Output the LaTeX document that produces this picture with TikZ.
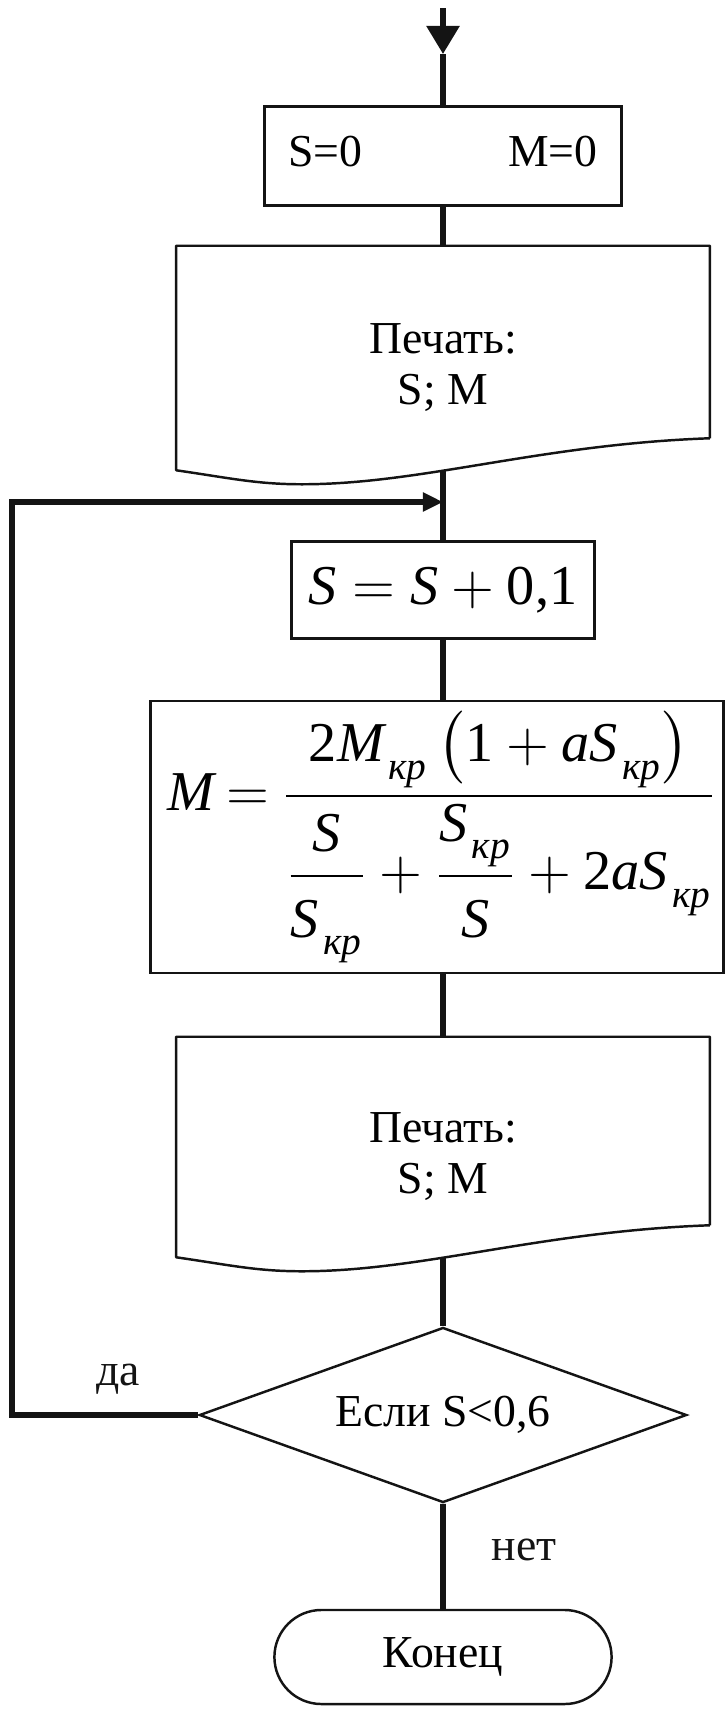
\RequirePackage{fix-cm}
\documentclass[tikz,border=0pt]{standalone}
\usepackage{amsmath}
\usepackage{fontspec}
\setmainfont{Liberation Serif}
\usetikzlibrary{arrows.meta,positioning,shapes.geometric,shapes.misc,calc}
\definecolor{inkCol}{RGB}{20,20,20}
\tikzset{
  outline/.style={draw=inkCol,line width=0.7pt},
  proc/.style={outline,rectangle,inner sep=0pt,align=center},
  docarea/.style={inner sep=0pt},
  doctext/.style={inner sep=0pt,align=center},
  decision/.style={outline,diamond,aspect=2.78,inner sep=0pt},
  term/.style={outline,rounded rectangle,inner sep=0pt},
  conn/.style={draw=inkCol,line width=1.6pt},
  flow/.style={conn,-{Triangle[length=2mm,width=1.8mm]}},
  lab/.style={text=inkCol},
}
% output block with a wavy lower edge
\newcommand{\printdoc}[1]{%
  \draw[outline,line join=round] ($(#1.south east)+(0,-32)$) -- (#1.north east)
    -- (#1.north west) -- (#1.south west)
    .. controls +(55,8) and +(-45,0) .. ($(#1.south west)+(126,14)$)
    .. controls +(120,0) and +(-170,6) .. ($(#1.south east)+(0,-32)$);}
\newcommand{\kr}{\mkern2mu\lower2.5pt\hbox{$\scriptstyle\textit{кр}$}}
\newcommand{\rs}{\rule[-4pt]{0pt}{4pt}}
\newcommand{\rt}{\rule{0pt}{15pt}}

\begin{document}
\begin{tikzpicture}[x=0.01cm,y=-0.01cm,every node/.style={font=\fontsize{13}{14.5}\selectfont}]
    \useasboundingbox (0,0) rectangle (724,1709);
    % --- entry and initial values ---
    \coordinate (in) at (443,8);
    \coordinate (inTip) at (443,54);
    \node[proc,minimum width=3.57cm,minimum height=0.99cm,text width=3.09cm,align=left] (init) at (443,156)
        {\raisebox{2.5pt}{S=0}\hfill\raisebox{2.5pt}{M=0}};
    \node[docarea,minimum width=5.32cm,minimum height=2.23cm] (out1) at (443,358) {};
    \printdoc{out1}
    \node[doctext] (out1txt) at (443,368) {Печать:\\S; M};
    % --- loop body ---
    \node[proc,minimum width=3.03cm,minimum height=0.97cm,font=\fontsize{16}{19}\selectfont] (inc) at (443,590)
        {$\textit{S}=\textit{S}+\textrm{0,1}$};
    \node[proc,minimum width=5.73cm,minimum height=2.72cm,font=\fontsize{16}{19}\selectfont] (mcalc) at (437,837)
        {\hspace*{0.1cm}$\displaystyle \textit{M}\mkern-1mu=\mkern-1mu\frac{\textrm{2}\textit{M}_{\kr}\left(\textrm{1}+\textit{aS}_{\kr}\right)}{\dfrac{\textit{S}\rs}{\rt\textit{S}_{\kr}}+\dfrac{\textit{S}_{\kr}\rs}{\rt\textit{S}}+\textrm{2}\textit{aS}_{\kr}}$};
    \node[docarea,minimum width=5.32cm,minimum height=2.19cm] (out2) at (443,1147) {};
    \printdoc{out2}
    \node[doctext] (out2txt) at (443,1157) {Печать:\\S; M};
    \node[decision,minimum width=4.87cm,minimum height=1.75cm] (cond) at (443,1415) {Если S<0,6};
    \node[term,minimum width=3.37cm,minimum height=0.94cm] (stop) at (443,1657) {Конец};
    % --- connectors ---
    \draw[conn,-{Triangle[length=2.8mm,width=3.2mm]}] (in) -- (inTip);
    \draw[conn] (inTip) -- (init.north);
    \draw[conn] (init) -- (out1);
    \draw[conn] (out1) -- (inc);
    \draw[conn] (inc) -- (inc |- mcalc.north);
    \draw[conn] (inc |- mcalc.south) -- (out2);
    \draw[conn] (out2) -- (cond);
    \draw[conn] (cond) -- (stop);
    % --- back to the loop start ---
    \coordinate (join) at (443,502);
    \coordinate (back) at (12,1415);
    \draw[flow] (cond.west) -- (back) |- (join);
    \node[lab] (yes) at (118,1379) {да};
    \node[lab] (no) at (524,1550) {нет};
\end{tikzpicture}
\end{document}
